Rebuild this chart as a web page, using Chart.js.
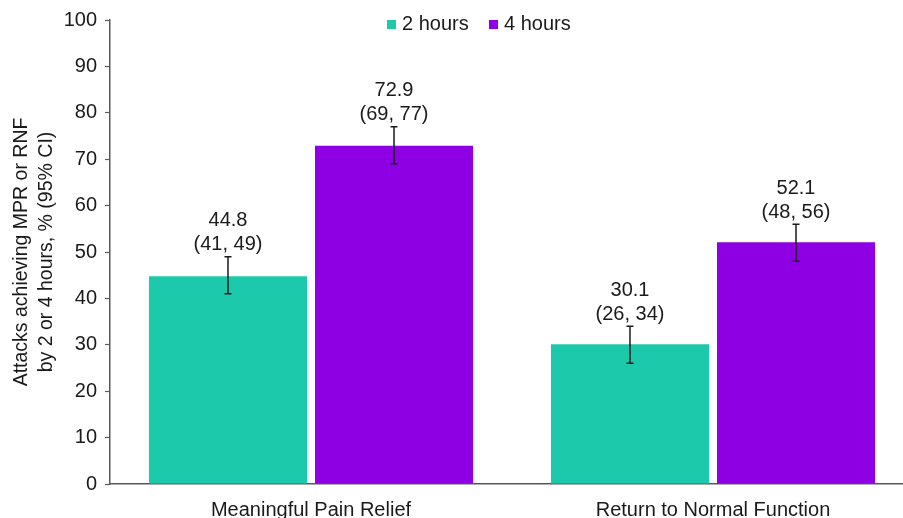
<!DOCTYPE html>
<html>
<head>
<meta charset="utf-8">
<script src="https://cdn.jsdelivr.net/npm/chart.js@4/dist/chart.umd.min.js"></script>
<style>
  html, body { margin: 0; padding: 0; background: #ffffff; overflow: hidden; }
  #wrap { width: 916px; height: 518px; }
</style>
</head>
<body>
<div id="wrap"><canvas id="c" width="916" height="518"></canvas></div>
<script>
// Outcomes and their percentages with 95% confidence intervals
const categories = ['Meaningful Pain Relief', 'Return to Normal Function'];
const seriesNames = ['2 hours', '4 hours'];
const hours2 = [44.8, 30.1];
const hours2Low = [41, 26];
const hours2High = [49, 34];
const hours4 = [72.9, 52.1];
const hours4Low = [69, 48];
const hours4High = [77, 56];
const yTicks = [0, 10, 20, 30, 40, 50, 60, 70, 80, 90, 100];

const TEAL = '#1ccaab';
const PURPLE = '#8e00e3';
const FONT = "'Liberation Sans', Arial, sans-serif";

// Whiskers plus "value (low, high)" labels above every bar
const ciPlugin = {
  id: 'ciLabels',
  afterDatasetsDraw(chart) {
    const ctx = chart.ctx;
    const y = chart.scales.y;
    chart.data.datasets.forEach((ds, di) => {
      const meta = chart.getDatasetMeta(di);
      meta.data.forEach((bar, i) => {
        const x = bar.x;
        const yLo = y.getPixelForValue(ds.ciLow[i]);
        const yHi = y.getPixelForValue(ds.ciHigh[i]);
        ctx.save();
        ctx.strokeStyle = '#1a1a1a';
        ctx.lineWidth = 1.5;
        ctx.beginPath();
        ctx.moveTo(x, yLo); ctx.lineTo(x, yHi);
        ctx.moveTo(x - 3.5, yLo); ctx.lineTo(x + 3.5, yLo);
        ctx.moveTo(x - 3.5, yHi); ctx.lineTo(x + 3.5, yHi);
        ctx.stroke();
        ctx.fillStyle = '#1a1a1a';
        ctx.font = '20px ' + FONT;
        ctx.textAlign = 'center';
        ctx.textBaseline = 'middle';
        ctx.fillText('(' + ds.ciLow[i] + ', ' + ds.ciHigh[i] + ')', x, yHi - 12);
        ctx.fillText(ds.data[i].toFixed(1), x, yHi - 36);
        ctx.restore();
      });
    });
  }
};

// Legend row at the top of the plot
const legendPlugin = {
  id: 'topLegend',
  afterDraw(chart) {
    const ctx = chart.ctx;
    ctx.save();
    ctx.font = '20px ' + FONT;
    ctx.textBaseline = 'middle';
    ctx.textAlign = 'left';
    const items = chart.data.datasets.map(d => ({ label: d.label, color: d.backgroundColor }));
    const xs = [387, 489];
    items.forEach((it, k) => {
      ctx.fillStyle = it.color;
      ctx.fillRect(xs[k], 20, 9, 9);
      ctx.fillStyle = '#1a1a1a';
      ctx.fillText(it.label, xs[k] + 15, 24.5);
    });
    ctx.restore();
  }
};

new Chart(document.getElementById('c'), {
  type: 'bar',
  data: {
    labels: categories,
    datasets: [
      { label: seriesNames[0], data: hours2, ciLow: hours2Low, ciHigh: hours2High,
        backgroundColor: TEAL, borderWidth: 0 },
      { label: seriesNames[1], data: hours4, ciLow: hours4Low, ciHigh: hours4High,
        backgroundColor: PURPLE, borderWidth: 0 }
    ]
  },
  options: {
    responsive: false,
    animation: false,
    devicePixelRatio: 1,
    datasets: { bar: { categoryPercentage: 0.826, barPercentage: 0.952 } },
    layout: { padding: { top: 20, right: 2, left: 0, bottom: 0 } },
    plugins: { legend: { display: false }, tooltip: { enabled: false } },
    scales: {
      x: {
        grid: { display: false, drawTicks: false },
        border: { display: true, color: '#595959', width: 1.5 },
        ticks: { color: '#1a1a1a', font: { family: FONT, size: 20 }, padding: 14, maxRotation: 0 },
        afterFit(s) { s.height = 34; }
      },
      y: {
        min: 0, max: 100,
        afterBuildTicks(s) { s.ticks = yTicks.map(v => ({ value: v })); },
        grid: { drawOnChartArea: false, drawTicks: true, tickLength: 5, tickColor: '#595959', tickWidth: 1.2 },
        border: { display: true, color: '#595959', width: 1.5 },
        ticks: { color: '#1a1a1a', font: { family: FONT, size: 20 }, padding: 8 },
        title: {
          display: true,
          text: ['Attacks achieving MPR or RNF', 'by 2 or 4 hours, % (95% CI)'],
          color: '#1a1a1a',
          font: { family: FONT, size: 19.5, lineHeight: 1.28 },
          padding: { top: 9, bottom: 0 }
        },
        afterFit(s) { s.width = 110; }
      }
    }
  },
  plugins: [ciPlugin, legendPlugin]
});
</script>
</body>
</html>
